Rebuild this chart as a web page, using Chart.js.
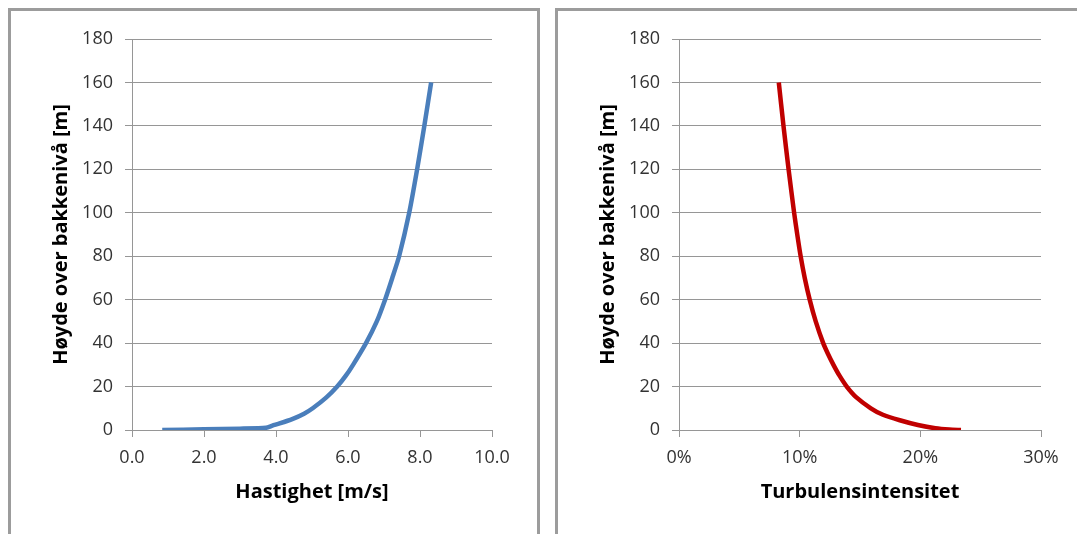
<!DOCTYPE html>
<html>
<head>
<meta charset="utf-8">
<script src="https://cdn.jsdelivr.net/npm/chart.js@4"></script>
<style>
    body { margin: 0; background: #fff; width: 1077px; height: 534px; overflow: hidden; position: relative; }
    .panel { position: absolute; top: 8px; height: 540px; border: 3px solid #9c9c9c; box-sizing: border-box; }
    .box { position: absolute; top: 0; height: 534px; }
</style>
</head>
<body>
<div class="panel" style="left:8px; width:532px;"></div>
<div class="panel" style="left:555px; width:540px;"></div>
<div class="box" style="left:0; width:545px;"><canvas id="chartSpeed"></canvas></div>
<div class="box" style="left:545px; width:532px;"><canvas id="chartTurb"></canvas></div>
<script>
// hastighetsprofil
var heightSpeed = [0, 0.3, 0.6, 1, 2, 3, 5, 7.5, 10, 15, 20, 25, 30, 40, 50, 60, 70, 80, 100, 120, 140, 160];
var speed = [0.84, 2.0, 3.0, 3.72, 3.9, 4.1, 4.45, 4.78, 5.02, 5.40, 5.70, 5.94, 6.14, 6.50, 6.80, 7.03, 7.23, 7.42, 7.70, 7.92, 8.12, 8.31];

// turbulensintensitet
var heightTurb = [0, 0.2, 0.8, 2.3, 4.5, 7, 10, 15, 20, 25, 30, 35, 40, 50, 60, 70, 80, 90, 100, 120, 140, 160];
var turb = [0.2337, 0.224, 0.2125, 0.198, 0.183, 0.169, 0.159, 0.147, 0.139, 0.133, 0.128, 0.1235, 0.1195, 0.1133, 0.1083, 0.1042, 0.1008, 0.098, 0.0954, 0.0908, 0.0866, 0.0827];

var yTitle = 'Høyde over bakkenivå [m]';
var gridColor = '#969696';
var font = 'Open Sans';

function makeChart(id, xs, ys, color, xTitle, xMax, xStep, xFmt, axisW, padRight, yTitlePad) {
    var pts = [];
    for (var i = 0; i < xs.length; i++) {
        pts.push({ x: xs[i], y: ys[i] });
    }
    return new Chart(document.getElementById(id), {
        type: 'scatter',
        data: {
            datasets: [{
                data: pts,
                showLine: true,
                borderColor: color,
                borderWidth: 4.5,
                pointRadius: 0,
                tension: 0.2,
                fill: false
            }]
        },
        options: {
            responsive: true,
            maintainAspectRatio: false,
            animation: false,
            layout: { padding: { left: 0, top: 39, right: padRight, bottom: 0 } },
            plugins: { legend: { display: false }, tooltip: { enabled: false } },
            scales: {
                x: {
                    min: 0, max: xMax,
                    afterFit: function (s) { s.height = 104; },
                    grid: { drawOnChartArea: false, drawTicks: true, tickLength: 7, color: gridColor },
                    border: { color: gridColor },
                    ticks: {
                        stepSize: xStep, padding: 10, color: '#333',
                        font: { family: font, size: 18 },
                        callback: xFmt
                    },
                    title: {
                        display: true, text: xTitle, color: '#000',
                        font: { family: font, size: 20, weight: 'bold' },
                        padding: { top: 0, bottom: 30 }
                    }
                },
                y: {
                    min: 0, max: 180,
                    afterFit: function (s) { s.width = axisW; },
                    grid: { color: gridColor, tickLength: 7 },
                    border: { color: gridColor },
                    ticks: {
                        stepSize: 20, padding: 12, color: '#333',
                        font: { family: font, size: 18 }
                    },
                    title: {
                        display: true, text: yTitle, color: '#000',
                        font: { family: font, size: 20, weight: 'bold' },
                        padding: { top: yTitlePad, bottom: 0 }
                    }
                }
            }
        }
    });
}

makeChart('chartSpeed', speed, heightSpeed, '#4a7ebb', 'Hastighet [m/s]', 10, 2,
    function (v) { return v.toFixed(1); }, 132, 53, 49);

makeChart('chartTurb', turb, heightTurb, '#c00000', 'Turbulensintensitet', 0.3, 0.1,
    function (v) { return Math.round(v * 100) + '%'; }, 134, 36, 51);
</script>
</body>
</html>
